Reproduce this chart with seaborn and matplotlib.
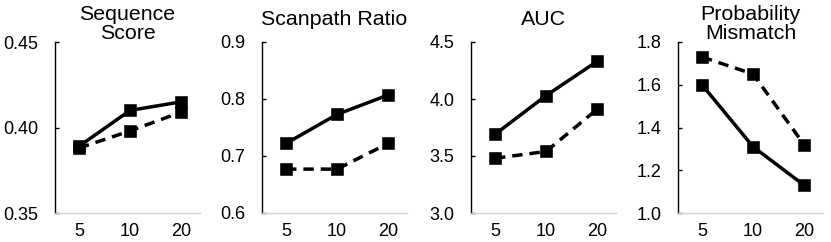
import matplotlib
matplotlib.use("Agg")
import matplotlib.pyplot as plt
import seaborn as sns
import pandas as pd

sns.set_theme(style="white")
plt.rcParams['font.family'] = ['Liberation Sans', 'DejaVu Sans']

k_labels = ["5", "10", "20"]
series_names = ["solid", "dashed"]

titles = ["Sequence\nScore", "Scanpath Ratio", "AUC", "Probability\nMismatch"]

seq_solid = [0.389, 0.410, 0.415]
seq_dashed = [0.388, 0.398, 0.409]
scan_solid = [0.722, 0.773, 0.807]
scan_dashed = [0.677, 0.677, 0.722]
auc_solid = [3.69, 4.03, 4.33]
auc_dashed = [3.48, 3.54, 3.91]
pm_solid = [1.60, 1.31, 1.13]
pm_dashed = [1.73, 1.65, 1.32]

ylims = [(0.35, 0.45), (0.6, 0.9), (3.0, 4.5), (1.0, 1.8)]
yticks = [[0.35, 0.40, 0.45], [0.6, 0.7, 0.8, 0.9], [3.0, 3.5, 4.0, 4.5],
          [1.0, 1.2, 1.4, 1.6, 1.8]]
yfmt = ["{:.2f}", "{:.1f}", "{:.1f}", "{:.1f}"]

data_pairs = [(seq_solid, seq_dashed), (scan_solid, scan_dashed),
              (auc_solid, auc_dashed), (pm_solid, pm_dashed)]

fig = plt.figure(figsize=(8.31, 2.42), dpi=100)
lefts = [55, 262, 471, 678]
W, H = 831, 242
ax_w = 145 / W
bottom = 1 - 213 / H
ax_h = (213 - 42) / H

for i in range(4):
    ax = fig.add_axes([lefts[i] / W, bottom, ax_w, ax_h])
    s, d = data_pairs[i]
    df = pd.DataFrame({
        "k": k_labels * 2,
        "val": list(s) + list(d),
        "series": [series_names[0]] * 3 + [series_names[1]] * 3,
    })
    sns.pointplot(data=df, x="k", y="val", hue="series", order=k_labels,
                  hue_order=series_names, palette=["black", "black"],
                  markers=["s", "s"], linestyles=["-", "--"],
                  errorbar=None, legend=False, ax=ax,
                  markersize=6.8, linewidth=2.5)
    for ln in ax.get_lines():
        if ln.get_linestyle() == "--":
            ln.set_dashes((3.0, 2.0))
    ax.set_xlim(-0.47, 2.37)
    ax.set_ylim(*ylims[i])
    ax.set_yticks(yticks[i])
    ax.set_yticklabels([yfmt[i].format(v) for v in yticks[i]])
    ax.set_xlabel("")
    ax.set_ylabel("")
    for side in ["top", "right"]:
        ax.spines[side].set_visible(False)
    ax.spines["left"].set_color("black")
    ax.spines["left"].set_linewidth(1.0)
    ax.spines["bottom"].set_color("#d0d0d0")
    ax.spines["bottom"].set_linewidth(1.0)
    ax.tick_params(axis="y", direction="in", length=3, width=1, color="black",
                   labelsize=13, pad=12, left=True, labelcolor="black")
    ax.tick_params(axis="x", length=0, labelsize=13, pad=7, labelcolor="black")
    off = 18 if "\n" in titles[i] else 22
    ax.text(0.5, 1 + off / 171, titles[i], transform=ax.transAxes,
            ha="center", va="center", fontsize=15.4, color="black",
            linespacing=0.95)
    ax.set_facecolor("white")

fig.savefig("out.png", dpi=100, facecolor="white")
